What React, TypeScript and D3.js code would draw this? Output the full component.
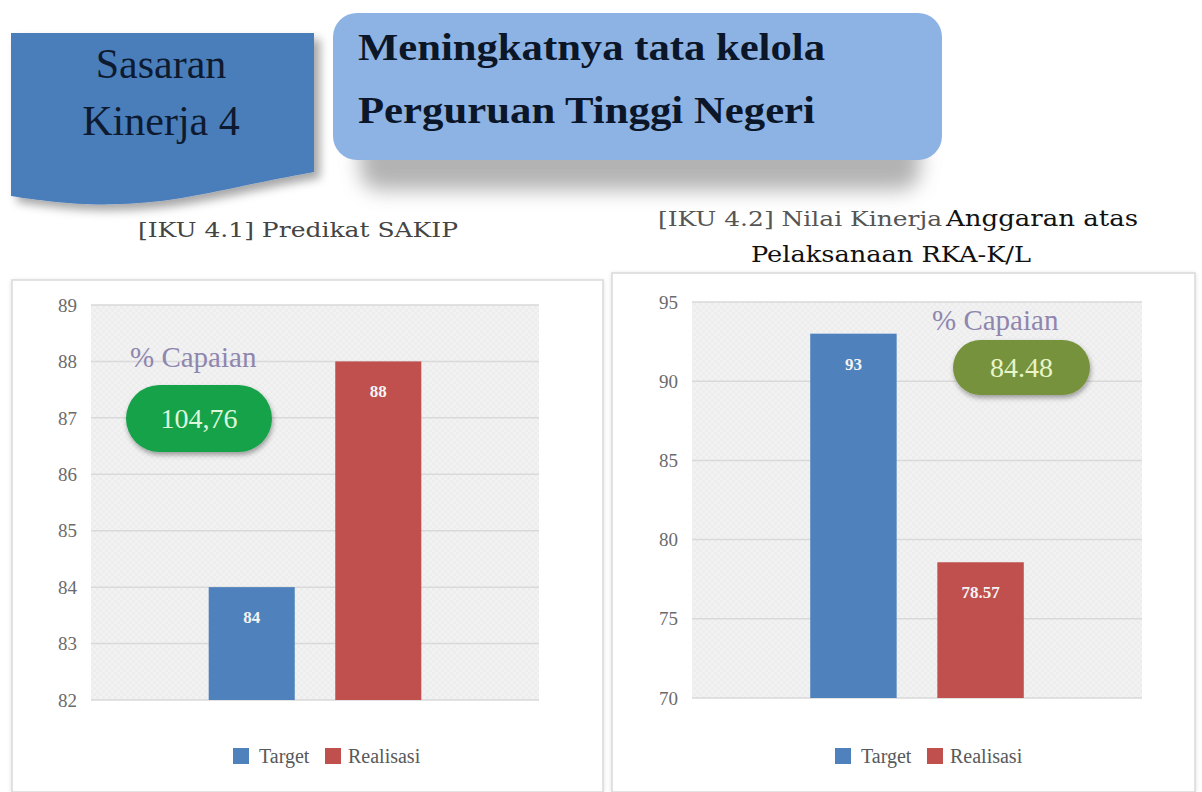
import React from "react";
import * as d3 from "d3";

const categories = ["Target", "Realisasi"];
const seriesColors = ["#4F81BD", "#C0504D"];

const sakipValues = [84, 88];
const sakipLabels = ["84", "88"];
const sakipTicks = [82, 83, 84, 85, 86, 87, 88, 89];
const sakipCapaian = "104,76";

const rkaValues = [93, 78.57];
const rkaLabels = ["93", "78.57"];
const rkaTicks = [70, 75, 80, 85, 90, 95];
const rkaCapaian = "84.48";

const headerLeft = ["Sasaran", "Kinerja 4"];
const headerRight = ["Meningkatnya tata kelola", "Perguruan Tinggi Negeri"];
const capaianTitle = "% Capaian";

type ChartProps = {
  id: string;
  box: { x: number; y: number; w: number; h: number };
  plot: { x0: number; x1: number; y0: number; y1: number };
  values: number[];
  labels: string[];
  ticks: number[];
  tickRight: number;
  capaian: string;
  capTitle: { x: number; y: number };
  pill: { x: number; y: number; w: number; h: number; fill: string; text: string };
  legend: { x: number; y: number };
};

const serif = "'Liberation Serif', 'Times New Roman', serif";

function Chart(p: ChartProps) {
  const y = d3
    .scaleLinear()
    .domain([p.ticks[0], p.ticks[p.ticks.length - 1]])
    .range([p.plot.y1, p.plot.y0]);
  const x = d3
    .scaleBand<string>()
    .domain(categories)
    .range([p.plot.x0, p.plot.x1])
    .paddingInner(0.32)
    .paddingOuter(0.93);
  const legendItems = [
    { sq: p.legend.x, tx: p.legend.x + 26 },
    { sq: p.legend.x + 92, tx: p.legend.x + 115 },
  ];
  return (
    <g>
      <rect
        x={p.box.x}
        y={p.box.y}
        width={p.box.w}
        height={p.box.h}
        fill="#fff"
        stroke="#D9D9D9"
        strokeWidth={1.5}
        filter="url(#boxShadow)"
      />
      <rect
        x={p.plot.x0}
        y={p.plot.y0}
        width={p.plot.x1 - p.plot.x0}
        height={p.plot.y1 - p.plot.y0}
        fill="url(#checker)"
      />
      {p.ticks.map((t) => (
        <g key={t}>
          <line
            x1={p.plot.x0}
            x2={p.plot.x1}
            y1={y(t)}
            y2={y(t)}
            stroke="#D9D9D9"
            strokeWidth={1.5}
          />
          <text
            x={p.tickRight}
            y={y(t)}
            dy="0.35em"
            textAnchor="end"
            fontFamily={serif}
            fontSize={19}
            fill="#6B6B6B"
          >
            {t}
          </text>
        </g>
      ))}
      {categories.map((c, i) => (
        <g key={c}>
          <rect
            x={x(c)}
            y={y(p.values[i])}
            width={x.bandwidth()}
            height={p.plot.y1 - y(p.values[i])}
            fill={seriesColors[i]}
          />
          <text
            x={(x(c) as number) + x.bandwidth() / 2}
            y={y(p.values[i]) + 36}
            textAnchor="middle"
            fontFamily={serif}
            fontWeight="bold"
            fontSize={17}
            fill="#F4F4F4"
          >
            {p.labels[i]}
          </text>
        </g>
      ))}
      <text
        x={p.capTitle.x}
        y={p.capTitle.y}
        fontFamily={serif}
        fontSize={29}
        fill="#8F86AE"
      >
        {capaianTitle}
      </text>
      <rect
        x={p.pill.x}
        y={p.pill.y}
        width={p.pill.w}
        height={p.pill.h}
        rx={p.pill.h / 2}
        fill={p.pill.fill}
        filter="url(#pillShadow)"
      />
      <text
        x={p.pill.x + p.pill.w / 2}
        y={p.pill.y + p.pill.h / 2}
        dy="0.35em"
        textAnchor="middle"
        fontFamily={serif}
        fontSize={28}
        fill={p.pill.text}
      >
        {p.capaian}
      </text>
      {categories.map((c, i) => (
        <g key={"lg" + c}>
          <rect
            x={legendItems[i].sq}
            y={p.legend.y - 8}
            width={16}
            height={16}
            fill={seriesColors[i]}
          />
          <text
            x={legendItems[i].tx}
            y={p.legend.y}
            dy="0.35em"
            fontFamily={serif}
            fontSize={20}
            fill="#595959"
          >
            {c}
          </text>
        </g>
      ))}
    </g>
  );
}

export default function App() {
  const wave = d3.line().curve(d3.curveBasis)([
    [314, 172],
    [260, 182],
    [180, 200],
    [110, 206],
    [50, 202],
    [11, 196],
  ] as [number, number][]);
  const darkPath = `M11,33 L314,33 L314,172 ${wave ? wave.replace(/^M[^C]*/, "L314,172 ") : ""} Z`;
  return (
    <svg
      width={1202}
      height={792}
      style={{ position: "absolute", left: 0, top: 0, display: "block", background: "#fff" }}
    >
      <defs>
        <pattern id="checker" width="6" height="6" patternUnits="userSpaceOnUse">
          <rect width="6" height="6" fill="#F2F2F2" />
          <rect width="3" height="3" fill="#EDEDED" />
          <rect x="3" y="3" width="3" height="3" fill="#EDEDED" />
        </pattern>
        <filter id="boxShadow" x="-5%" y="-5%" width="110%" height="110%">
          <feDropShadow dx="0" dy="1" stdDeviation="2" floodColor="#000" floodOpacity="0.12" />
        </filter>
        <filter id="pillShadow" x="-20%" y="-30%" width="140%" height="170%">
          <feDropShadow dx="1" dy="3" stdDeviation="2.5" floodColor="#000" floodOpacity="0.35" />
        </filter>
        <filter id="headShadow" x="-10%" y="-20%" width="120%" height="160%">
          <feGaussianBlur stdDeviation="10" />
        </filter>
        <filter id="darkShadow" x="-10%" y="-10%" width="130%" height="130%">
          <feDropShadow dx="6" dy="6" stdDeviation="5" floodColor="#000" floodOpacity="0.35" />
        </filter>
      </defs>

      {/* header */}
      <rect x={360} y={120} width={560} height={70} rx={20} fill="#9A9A9A" opacity={0.75} filter="url(#headShadow)" />
      <path d={darkPath} fill="#4A7EBB" filter="url(#darkShadow)" />
      {headerLeft.map((t, i) => (
        <text
          key={t}
          x={161}
          y={78 + i * 57}
          textAnchor="middle"
          fontFamily={serif}
          fontSize={42}
          fill="#0E1A30"
        >
          {t}
        </text>
      ))}
      <rect x={333} y={13} width={609} height={147} rx={24} fill="#8DB3E4" />
      {headerRight.map((t, i) => (
        <text
          key={t}
          x={358}
          y={60 + i * 63}
          fontFamily={serif}
          fontWeight="bold"
          fontSize={38}
          fill="#0B1628"
          textLength={i === 0 ? 467 : 457}
          lengthAdjust="spacingAndGlyphs"
        >
          {t}
        </text>
      ))}

      {/* subtitles */}
      <text
        x={138}
        y={237}
        fontFamily="'DejaVu Serif', serif"
        fontSize={21}
        fill="#444"
        textLength={320}
        lengthAdjust="spacingAndGlyphs"
      >
        [IKU 4.1] Predikat SAKIP
      </text>
      <text
        x={658}
        y={226}
        fontFamily="'DejaVu Serif', serif"
        fontSize={21}
        fill="#555"
        textLength={284}
        lengthAdjust="spacingAndGlyphs"
      >
        [IKU 4.2] Nilai Kinerja
      </text>
      <text
        x={946}
        y={226}
        fontFamily="'DejaVu Serif', serif"
        fontSize={23}
        fill="#111"
        textLength={192}
        lengthAdjust="spacingAndGlyphs"
      >
        Anggaran atas
      </text>
      <text
        x={751}
        y={262}
        fontFamily="'DejaVu Serif', serif"
        fontSize={23}
        fill="#111"
        textLength={280}
        lengthAdjust="spacingAndGlyphs"
      >
        Pelaksanaan RKA-K/L
      </text>

      <Chart
        id="a"
        box={{ x: 12, y: 280, w: 591, h: 512 }}
        plot={{ x0: 91, x1: 539, y0: 305, y1: 700 }}
        values={sakipValues}
        labels={sakipLabels}
        ticks={sakipTicks}
        tickRight={77}
        capaian={sakipCapaian}
        capTitle={{ x: 130, y: 367 }}
        pill={{ x: 126, y: 385, w: 146, h: 67, fill: "#17A24A", text: "#DDF7DD" }}
        legend={{ x: 233, y: 756 }}
      />
      <Chart
        id="b"
        box={{ x: 612, y: 273, w: 583, h: 519 }}
        plot={{ x0: 692, x1: 1142, y0: 302, y1: 698 }}
        values={rkaValues}
        labels={rkaLabels}
        ticks={rkaTicks}
        tickRight={678}
        capaian={rkaCapaian}
        capTitle={{ x: 932, y: 330 }}
        pill={{ x: 953, y: 340, w: 137, h: 55, fill: "#76923C", text: "#E8F5C8" }}
        legend={{ x: 835, y: 756 }}
      />
    </svg>
  );
}
